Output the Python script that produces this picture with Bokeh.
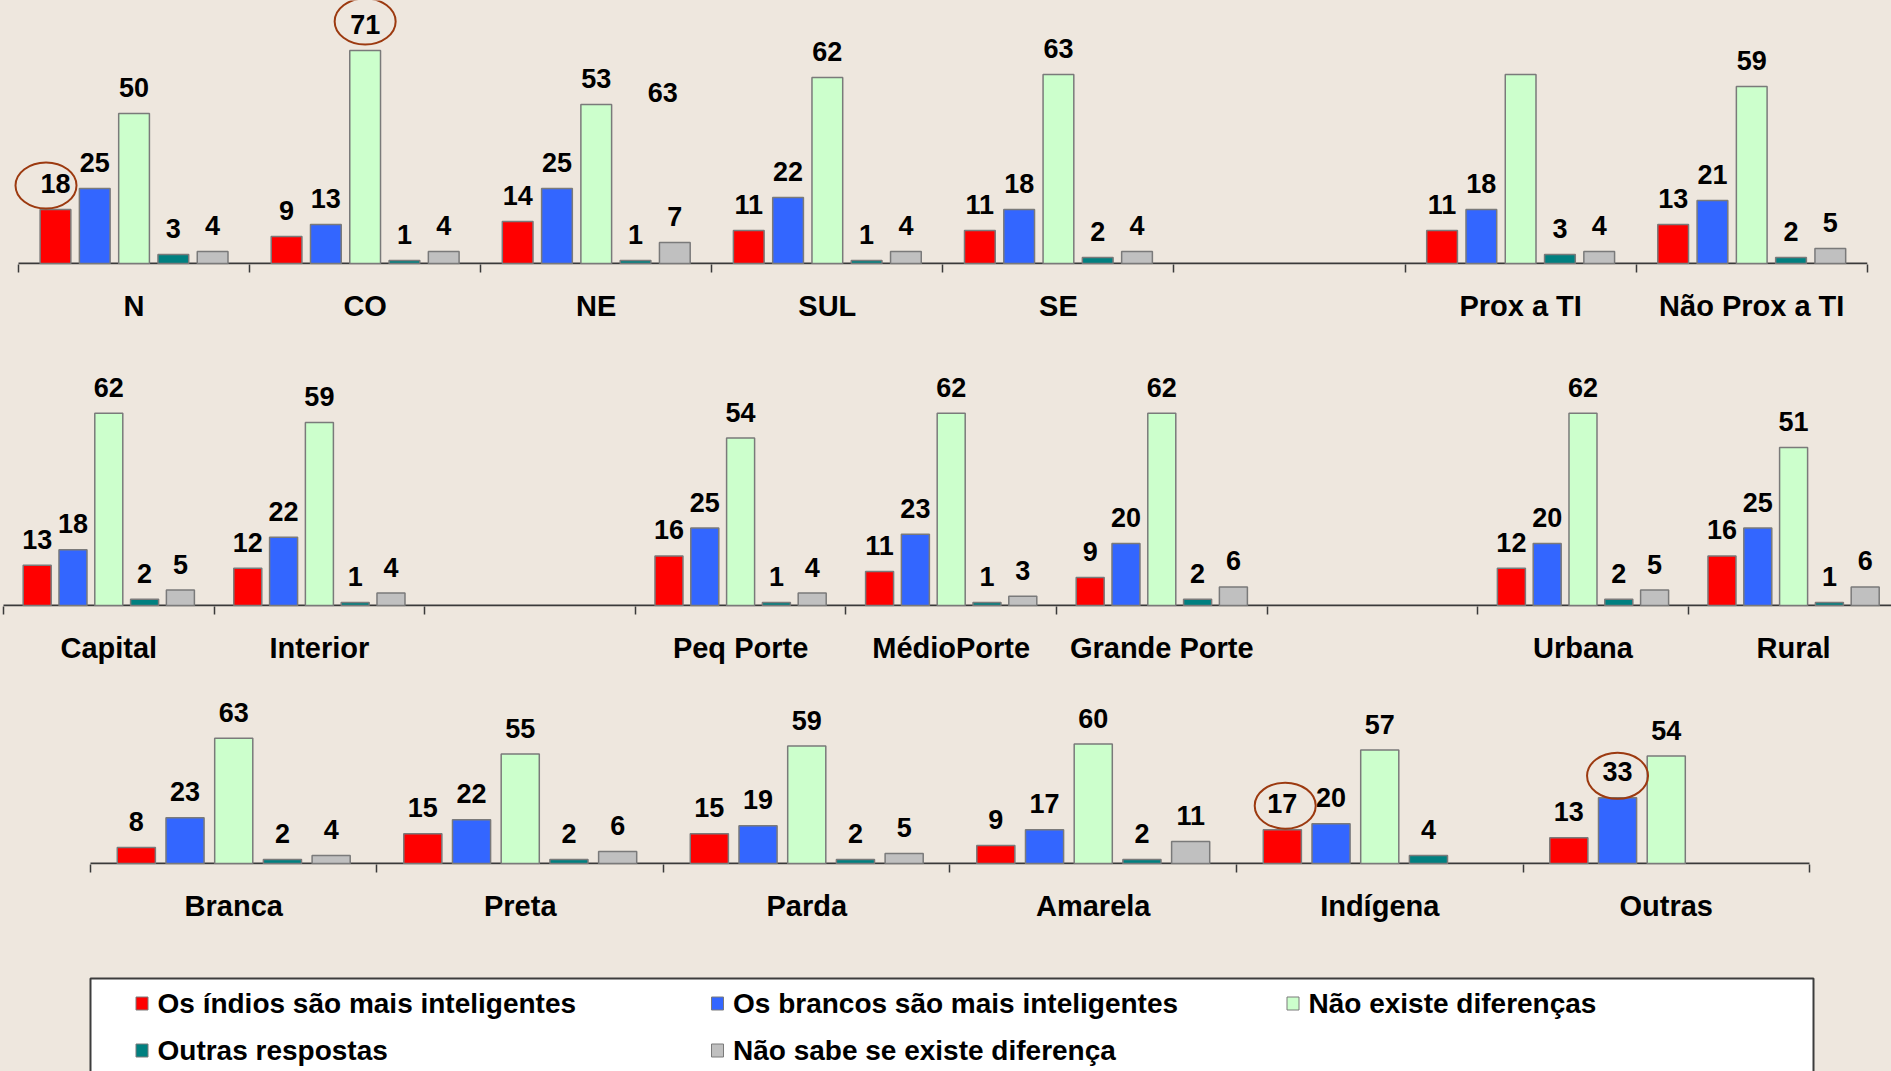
from bokeh.plotting import figure
from bokeh.models import ColumnDataSource, Range1d, FixedTicker, LinearAxis
from bokeh.layouts import column
from bokeh.embed import file_html
from bokeh.resources import INLINE
from bokeh.core.properties import value

# ---------------- data ----------------
series_names = ["Os índios são mais inteligentes",
                "Os brancos são mais inteligentes",
                "Não existe diferenças",
                "Outras respostas",
                "Não sabe se existe diferença"]

row1_categories = ["N", "CO", "NE", "SUL", "SE", "", "Prox a TI", "Não Prox a TI"]
row1_indios     = [18, 9, 14, 11, 11, None, 11, 13]
row1_brancos    = [25, 13, 25, 22, 18, None, 18, 21]
row1_nao_existe = [50, 71, 53, 62, 63, None, 63, 59]
row1_outras     = [3, 1, 1, 1, 2, None, 3, 2]
row1_nao_sabe   = [4, 4, 7, 4, 4, None, 4, 5]

row2_categories = ["Capital", "Interior", "", "Peq Porte", "MédioPorte",
                   "Grande Porte", "", "Urbana", "Rural"]
row2_indios     = [13, 12, None, 16, 11, 9, None, 12, 16]
row2_brancos    = [18, 22, None, 25, 23, 20, None, 20, 25]
row2_nao_existe = [62, 59, None, 54, 62, 62, None, 62, 51]
row2_outras     = [2, 1, None, 1, 1, 2, None, 2, 1]
row2_nao_sabe   = [5, 4, None, 4, 3, 6, None, 5, 6]

row3_categories = ["Branca", "Preta", "Parda", "Amarela", "Indígena", "Outras"]
row3_indios     = [8, 15, 15, 9, 17, 13]
row3_brancos    = [23, 22, 19, 17, 20, 33]
row3_nao_existe = [63, 55, 59, 60, 57, 54]
row3_outras     = [2, 2, 2, 2, 4, None]
row3_nao_sabe   = [4, 6, 5, 11, None, None]

# circled values: (category, series index)
row1_circled = [("N", 0), ("CO", 2)]
row3_circled = [("Indígena", 0), ("Outras", 1)]

# the green "Prox a TI" value label appears displaced over the NE group
row1_unlabeled = [("Prox a TI", 2)]
stray_label_text = "63"
stray_label_category = "NE"

# ---------------- style ----------------
BG = "#eee7de"
COLORS = ["#ff0000", "#3366ff", "#ccffcc", "#008080", "#c0c0c0"]
FONT = value("Liberation Sans")
OFFSETS = [-0.34, -0.17, 0.0, 0.17, 0.34]
BAR_W = 0.133
AXIS_COLOR = "#3a3a3a"
CIRCLE_COLOR = "#9c3a10"
LABEL_SIZE = "27px"
W = 1891


def make_row(cats, series, height, frame_h, px_per_unit, x_start, x_end,
             circled=(), circle_dx=None, circle_dy=None, unlabeled=()):
    y_start = -1.0 / px_per_unit
    y_end = (frame_h - 1) / px_per_unit
    p = figure(width=W, height=height,
               x_range=Range1d(x_start, x_end), y_range=Range1d(y_start, y_end),
               output_backend="svg", toolbar_location=None,
               x_axis_location=None, y_axis_location=None,
               min_border_left=0, min_border_right=0,
               min_border_top=0, min_border_bottom=height - frame_h,
               background_fill_color=BG, border_fill_color=BG,
               outline_line_color=None, title=None)
    p.grid.visible = False

    n = len(cats)
    # baseline (category axis line)
    p.segment(x0=[-0.5], y0=[0], x1=[n - 0.5], y1=[0],
              line_color=AXIS_COLOR, line_width=2)

    skip = {(cats.index(c), s) for c, s in unlabeled}
    for si, vals in enumerate(series):
        xs, tops = [], []
        lx, ly, lt = [], [], []
        for ci, v in enumerate(vals):
            if v is None:
                continue
            xs.append(ci + OFFSETS[si])
            tops.append(v)
            if (ci, si) not in skip:
                lx.append(ci + OFFSETS[si])
                ly.append(v)
                lt.append(str(v))
        src = ColumnDataSource(dict(x=xs, top=tops))
        p.vbar(x="x", top="top", bottom=0, width=BAR_W, source=src,
               fill_color=COLORS[si], line_color="#7a7a7a", line_width=1.5)
        lsrc = ColumnDataSource(dict(x=lx, y=ly, label=lt))
        p.text(x="x", y="y", text="label", source=lsrc,
               text_font=FONT, text_font_style="bold", text_font_size=LABEL_SIZE,
               text_color="black", text_align="center",
               text_baseline="alphabetic", y_offset=-26)

    # circled values
    if circled:
        cx, cy = [], []
        for (cat, si), dx, dy in zip(circled, circle_dx, circle_dy):
            ci = cats.index(cat)
            cx.append(ci + OFFSETS[si] + dx)
            cy.append(series[si][ci] + dy / px_per_unit)
        p.ellipse(x=cx, y=cy, width=61, height=46,
                  width_units="screen", height_units="screen",
                  fill_color=None, line_color=CIRCLE_COLOR, line_width=2)

    centers = [i for i, c in enumerate(cats) if c]
    bounds = [i - 0.5 for i in range(n + 1)]
    ax = LinearAxis(ticker=FixedTicker(ticks=centers, minor_ticks=bounds),
                    major_label_overrides={i: cats[i] for i in centers})
    ax.axis_line_color = None
    ax.major_tick_line_color = None
    ax.major_tick_in = 0
    ax.major_tick_out = 0
    ax.minor_tick_line_color = AXIS_COLOR
    ax.minor_tick_line_width = 1.5
    ax.minor_tick_in = 0
    ax.minor_tick_out = 8
    ax.major_label_standoff = 17
    ax.major_label_text_font = "Liberation Sans"
    ax.major_label_text_font_style = "bold"
    ax.major_label_text_font_size = "29px"
    ax.major_label_text_color = "black"
    p.add_layout(ax, "below")
    return p


row1_series = [row1_indios, row1_brancos, row1_nao_existe, row1_outras, row1_nao_sabe]
row2_series = [row2_indios, row2_brancos, row2_nao_existe, row2_outras, row2_nao_sabe]
row3_series = [row3_indios, row3_brancos, row3_nao_existe, row3_outras, row3_nao_sabe]

p1 = make_row(row1_categories, row1_series, height=333, frame_h=264, px_per_unit=3.0,
              x_start=-0.5779, x_end=7.6048,
              circled=row1_circled, circle_dx=[-0.041, 0.0], circle_dy=[24, 29],
              unlabeled=row1_unlabeled)
# displaced label
ne = row1_categories.index(stray_label_category)
p1.text(x=[ne + 0.288], y=[57], text=[stray_label_text],
        text_font=FONT, text_font_style="bold", text_font_size=LABEL_SIZE,
        text_color="black", text_align="center", text_baseline="alphabetic")

p2 = make_row(row2_categories, row2_series, height=342, frame_h=273, px_per_unit=3.10,
              x_start=-0.5142, x_end=8.4649)

p3 = make_row(row3_categories, row3_series, height=285, frame_h=189, px_per_unit=1.99,
              x_start=-0.8141, x_end=5.7862,
              circled=row3_circled, circle_dx=[0.01, 0.0], circle_dy=[24, 22])

# ---------------- legend ----------------
LH = 111
pl = figure(width=W, height=LH, x_range=Range1d(0, W), y_range=Range1d(LH, 0),
            output_backend="svg", toolbar_location=None,
            x_axis_location=None, y_axis_location=None,
            min_border=0, min_border_left=0, min_border_right=0,
            min_border_top=0, min_border_bottom=0,
            background_fill_color=BG, border_fill_color=BG,
            outline_line_color=None, title=None)
pl.grid.visible = False
pl.quad(left=90, right=1813, top=18, bottom=160, fill_color="white",
        line_color="#3c3c3c", line_width=2)
sq_x, sq_y, tx_x, tx_y = [], [], [], []
for i, name in enumerate(series_names):
    col, row = i % 3, i // 3
    sq_x.append(141.5 + col * 575.5)
    sq_y.append(43 + row * 47)
    tx_x.append(157 + col * 575.5)
    tx_y.append(43 + row * 47)
pl.rect(x=sq_x, y=sq_y, width=12, height=13, fill_color=COLORS,
        line_color="#7a7a7a", line_width=1)
pl.text(x=tx_x, y=tx_y, text=series_names, text_font=FONT,
        text_font_style="bold", text_font_size="28px", text_color="black",
        text_align="left", text_baseline="middle")

layout = column(p1, p2, p3, pl, spacing=0, styles={"background-color": BG})
open("out.html", "w").write(file_html(layout, INLINE))
